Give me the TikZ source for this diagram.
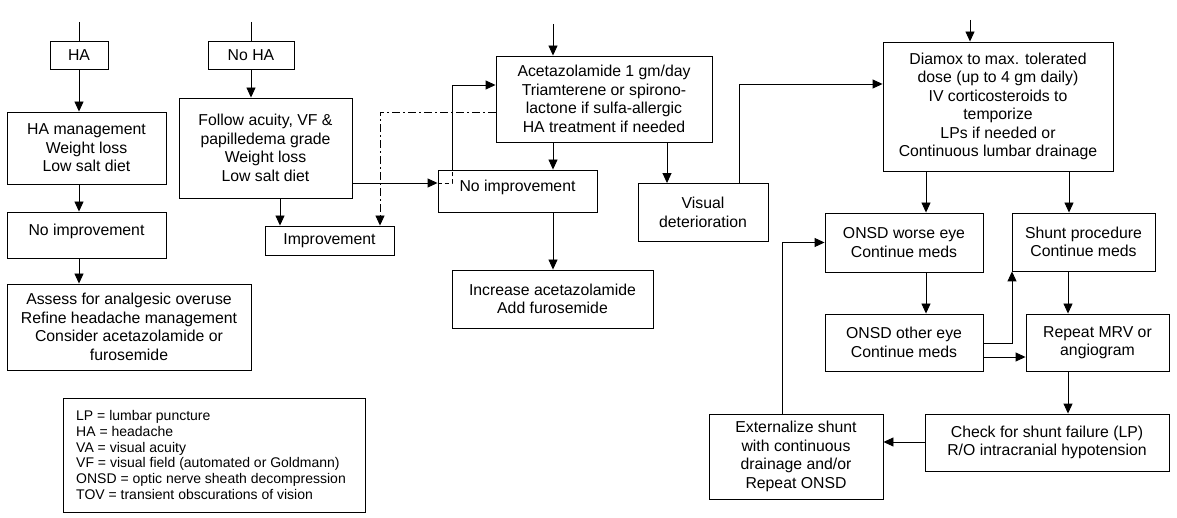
\documentclass[tikz,border=0pt]{standalone}
\usepackage{fontspec}
\setmainfont{Liberation Sans}
\usetikzlibrary{arrows.meta}
\tikzset{
  box/.style={draw, line width=0.9pt, inner sep=0pt, align=center, font=\fontsize{15.8}{18.5}\selectfont},
  arr/.style={line width=0.9pt, -{Triangle[length=10pt,width=9pt]}},
  ln/.style={line width=0.9pt},
  dd/.style={line width=0.9pt, dash pattern=on 8pt off 3pt on 2pt off 3pt},
}
\begin{document}
\begin{tikzpicture}[x=1pt,y=-1pt]
\useasboundingbox (0,0) rectangle (1177,518);
% left column
\node[box, minimum width=58, minimum height=28] (ha) at (79,55) {HA};
\node[box, minimum width=159, minimum height=72] (ham) at (86.5,148) {HA management\\Weight loss\\Low salt diet};
\node[box, minimum width=159, minimum height=46, text depth=10pt] (nil) at (86.5,235) {No improvement};
\node[box, minimum width=244, minimum height=86] (assess) at (129,327) {Assess for analgesic overuse\\Refine headache management\\Consider acetazolamide or\\furosemide};
% second column
\node[box, minimum width=86, minimum height=28] (noha) at (251,55) {No HA};
\node[box, minimum width=173, minimum height=100] (follow) at (265.5,148) {Follow acuity, VF \&\\papilledema grade\\Weight loss\\Low salt diet};
\node[box, minimum width=129, minimum height=29] (imp) at (329.5,240.5) {Improvement};
% middle
\node[box, minimum width=216, minimum height=86] (acet) at (604,99) {Acetazolamide 1 gm/day\\Triamterene or spirono-\\lactone if sulfa-allergic\\HA treatment if needed};
\node[box, minimum width=159, minimum height=42, text depth=10pt] (nim) at (517.5,191) {No improvement};
\node[box, minimum width=201, minimum height=58] (inc) at (552.5,299) {Increase acetazolamide\\Add furosemide};
\node[box, minimum width=130, minimum height=58] (vis) at (703,212.5) {Visual\\deterioration};
% right
\node[box, minimum width=230, minimum height=129] (diamox) at (998,106.5) {Diamox to max. tolerated\\dose (up to 4 gm daily)\\IV corticosteroids to\\temporize\\LPs if needed or\\Continuous lumbar drainage};
\node[box, minimum width=158, minimum height=59] (onsdw) at (904,242.5) {ONSD worse eye\\Continue meds};
\node[box, minimum width=143, minimum height=58] (shunt) at (1083.5,242) {Shunt procedure\\Continue meds};
\node[box, minimum width=158, minimum height=57] (onsdo) at (904,342.5) {ONSD other eye\\Continue meds};
\node[box, minimum width=143, minimum height=57] (mrv) at (1097.5,342.5) {Repeat MRV or\\angiogram};
\node[box, minimum width=244, minimum height=57] (check) at (1047,442.5) {Check for shunt failure (LP)\\R/O intracranial hypotension};
\node[box, minimum width=174, minimum height=85] (ext) at (796,456.5) {Externalize shunt\\with continuous\\drainage and/or\\Repeat ONSD};
% legend
\node[draw, line width=0.9pt, minimum width=302, minimum height=114, inner sep=0pt] (legbox) at (214,455) {};
\node[anchor=west, align=left, inner sep=0pt, font=\fontsize{14}{15.8}\selectfont] (legend) at (76,455) {LP = lumbar puncture\\HA = headache\\VA = visual acuity\\VF = visual field (automated or Goldmann)\\ONSD = optic nerve sheath decompression\\TOV = transient obscurations of vision};
% entry lines
\coordinate (haTop) at (79,22);
\coordinate (nohaTop) at (251,22);
\coordinate (acetTop) at (553,24);
\coordinate (diamoxTop) at (970,20);
\draw[ln] (haTop) -- (ha.north);
\draw[ln] (nohaTop) -- (noha.north);
\draw[arr] (acetTop) -- (acet.north -| acetTop);
\draw[arr] (diamoxTop) -- (diamox.north -| diamoxTop);
% left column connectors
\draw[arr] (ha.south) -- (ham.north -| ha.south);
\draw[arr] (ham.south -| ha.south) -- (nil.north -| ha.south);
\draw[arr] (nil.south -| ha.south) -- (assess.north -| ha.south);
% second column
\draw[arr] (noha.south) -- (follow.north -| noha.south);
\draw[arr] (follow.south -| 280,0) -- (imp.north -| 280,0);
\draw[arr] (follow.east |- 0,183) -- (nim.west |- 0,183);
\draw[ln, dashed, dash pattern=on 4pt off 3pt] (nim.west |- 0,183) -| (nim.north -| 452,0);
\draw[arr] (nim.north -| 452,0) |- (acet.west |- 0,85);
\draw[dd, -{Triangle[length=10pt,width=9pt]}] (acet.west |- 0,112) -| (imp.north -| 380,0);
% middle
\draw[arr] (acet.south -| 553,0) -- (nim.north -| 553,0);
\draw[arr] (nim.south -| 553,0) -- (inc.north -| 553,0);
\draw[arr] (acet.south -| 667,0) -- (vis.north -| 667,0);
\draw[arr] (vis.north -| 739,0) |- (diamox.west |- 0,84);
% right
\draw[arr] (diamox.south -| 926,0) -- (onsdw.north -| 926,0);
\draw[arr] (diamox.south -| 1069,0) -- (shunt.north -| 1069,0);
\draw[arr] (onsdw.south -| 926,0) -- (onsdo.north -| 926,0);
\draw[arr] (shunt.south -| 1068,0) -- (mrv.north -| 1068,0);
\draw[arr] (onsdo.east |- 0,343) -| (shunt.south -| 1012,0);
\draw[arr] (onsdo.east |- 0,357) -- (mrv.west |- 0,357);
\draw[arr] (mrv.south -| 1068,0) -- (check.north -| 1068,0);
\draw[arr] (check.west |- 0,442) -- (ext.east |- 0,442);
\draw[arr] (ext.north -| 782,0) |- (onsdw.west);
\end{tikzpicture}
\end{document}
